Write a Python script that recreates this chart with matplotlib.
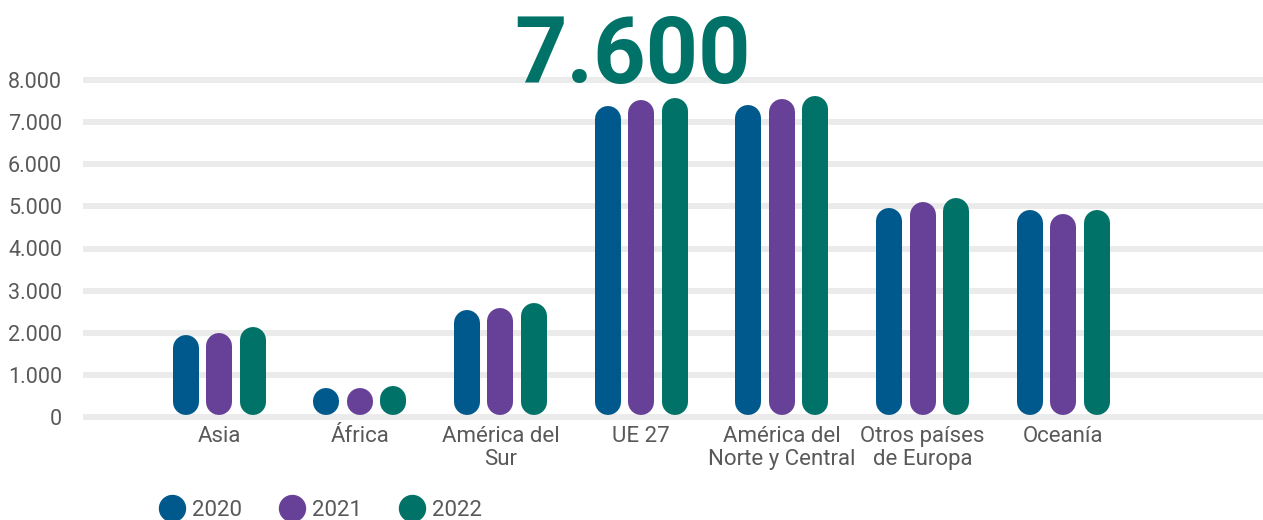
import matplotlib
matplotlib.use("Agg")
import matplotlib.pyplot as plt
from matplotlib.lines import Line2D
from matplotlib.ticker import FuncFormatter, MultipleLocator
import numpy as np

# ---- data ----
categories = ["Asia", "África", "América del\nSur", "UE 27",
              "América del\nNorte y Central", "Otros países\nde Europa", "Oceanía"]
years = ["2020", "2021", "2022"]
values_2020 = [1950, 690, 2540, 7390, 7410, 4960, 4920]
values_2021 = [2000, 690, 2590, 7530, 7550, 5110, 4820]
values_2022 = [2140, 740, 2710, 7580, 7620, 5200, 4920]
headline = "7.600"

series = [values_2020, values_2021, values_2022]
colors = ["#00598C", "#674198", "#007268"]
text_color = "#595959"
grid_color = "#EBEBEB"

plt.rcParams["font.family"] = ["Roboto", "DejaVu Sans"]

W, H, DPI = 1263, 520, 100
fig = plt.figure(figsize=(W / DPI, H / DPI), dpi=DPI)

# axes placement (pixels)
ax_left_px, ax_right_px = 83, 1263
y0_px, y8000_px = 417, 80
ymin, ymax = -150, 8150
px_per_unit = (y0_px - y8000_px) / 8000.0
ax_bottom_px = y0_px + (0 - ymin) * px_per_unit
ax_top_px = y8000_px - (ymax - 8000) * px_per_unit
ax = fig.add_axes([ax_left_px / W, 1 - ax_bottom_px / H,
                   (ax_right_px - ax_left_px) / W, (ax_bottom_px - ax_top_px) / H])

x = np.arange(len(categories))
ax.set_xlim(-0.967, 7.42)
ax.set_ylim(ymin, ymax)

# grid
ax.yaxis.set_major_locator(MultipleLocator(1000))
ax.yaxis.set_major_formatter(FuncFormatter(lambda v, p: f"{int(v):,}".replace(",", ".")))
ax.grid(axis="y", color=grid_color, linewidth=4.3)
ax.set_axisbelow(True)
for s in ax.spines.values():
    s.set_visible(False)
ax.tick_params(axis="y", length=0, pad=15, labelsize=15.5, labelcolor=text_color)
ax.tick_params(axis="x", length=0, pad=2, labelsize=16, labelcolor=text_color)
ax.set_xticks(x)
ax.set_xticklabels(categories, linespacing=1.1)

# capsule bars
bar_w_px = 26
lw_pt = bar_w_px * 72 / DPI
r_data = (bar_w_px / 2) / px_per_unit
offsets = [-0.238, 0.0, 0.238]
base = 50
for vals, off, c in zip(series, offsets, colors):
    for xi, v in zip(x, vals):
        lo = base + r_data
        hi = max(v - r_data, lo + 1)
        ax.plot([xi + off, xi + off], [lo, hi], color=c, linewidth=lw_pt,
                solid_capstyle="round", zorder=3)

# headline
fig.text(633 / W, 1 - 57 / H, headline, ha="center", va="center",
         fontsize=66, fontweight="bold", color="#007268")

# legend
handles = [Line2D([], [], linestyle="none", marker="o", markersize=18.7,
                  markerfacecolor=c, markeredgecolor=c) for c in colors]
leg = fig.legend(handles, years, loc="center left",
                 bbox_to_anchor=(161 / W, 1 - 510.5 / H), ncol=3, frameon=False,
                 fontsize=16, handlelength=1.0, handletextpad=0.4,
                 columnspacing=1.75, borderpad=0, borderaxespad=0)
for t in leg.get_texts():
    t.set_color(text_color)

fig.savefig("out.png", dpi=DPI)
